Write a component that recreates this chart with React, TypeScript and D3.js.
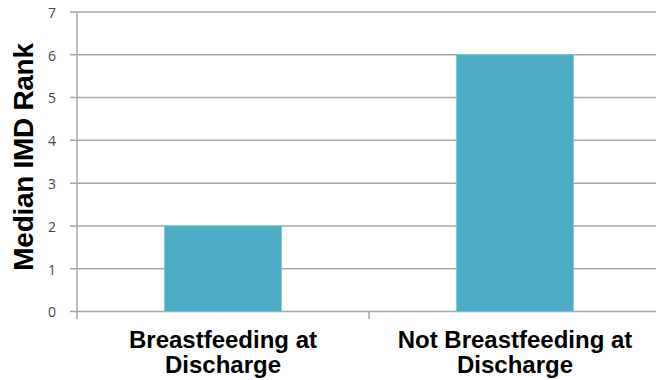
import React from "react";
import * as d3 from "d3";

const categories: string[][] = [
  ["Breastfeeding at", "Discharge"],
  ["Not Breastfeeding at", "Discharge"],
];
const values: number[] = [2, 6];
const yTicks: number[] = [0, 1, 2, 3, 4, 5, 6, 7];
const yTitle = "Median IMD Rank";

export default function App() {
  const W = 656, H = 380;
  const left = 77, right = 661, top = 12, bottom = 311.5;
  const x = d3.scaleBand<number>().domain(d3.range(categories.length)).range([left, right]).paddingInner(0.6).paddingOuter(0.3);
  const xb = d3.scaleBand<number>().domain(d3.range(categories.length)).range([left, right]);
  const y = d3.scaleLinear().domain([0, 7]).range([bottom, top]);
  const grid = "#a6a6a6";
  const font = "'Liberation Sans', Arial, sans-serif";
  return (
    <svg width={W} height={H} style={{ position: "absolute", left: 0, top: 0, background: "#fff" }}>
      {yTicks.map((t) => (
        <g key={t}>
          <line x1={70} x2={W} y1={y(t)} y2={y(t)} stroke={grid} strokeWidth={1.5} />
          <text x={56} y={y(t)} dy="0.42em" textAnchor="end" fontFamily="'Open Sans', 'DejaVu Sans', sans-serif" fontSize={14} fill="#3f4450">{t}</text>
        </g>
      ))}
      <line x1={left} x2={left} y1={top} y2={319} stroke={grid} strokeWidth={1.5} />
      {d3.range(1, categories.length).map((i) => (
        <line key={i} x1={xb(i)!} x2={xb(i)!} y1={bottom} y2={319} stroke={grid} strokeWidth={1.5} />
      ))}
      {values.map((v, i) => (
        <rect key={i} x={x(i)!} width={x.bandwidth()} y={y(v)} height={y(0) - y(v)} fill="#4bacc6" stroke="#7fc6d8" strokeWidth={0.8} />
      ))}
      {categories.map((lines, i) => (
        <text key={i} textAnchor="middle" fontFamily={font} fontWeight="bold" fontSize={24} fill="#000">
          {lines.map((l, j) => (
            <tspan key={j} x={x(i)! + x.bandwidth() / 2} y={347.5 + j * 25}>{l}</tspan>
          ))}
        </text>
      ))}
      <text transform={`translate(33,157) rotate(-90)`} textAnchor="middle" fontFamily={font} fontWeight="bold" fontSize={28} letterSpacing={-0.3} fill="#000">{yTitle}</text>
    </svg>
  );
}
